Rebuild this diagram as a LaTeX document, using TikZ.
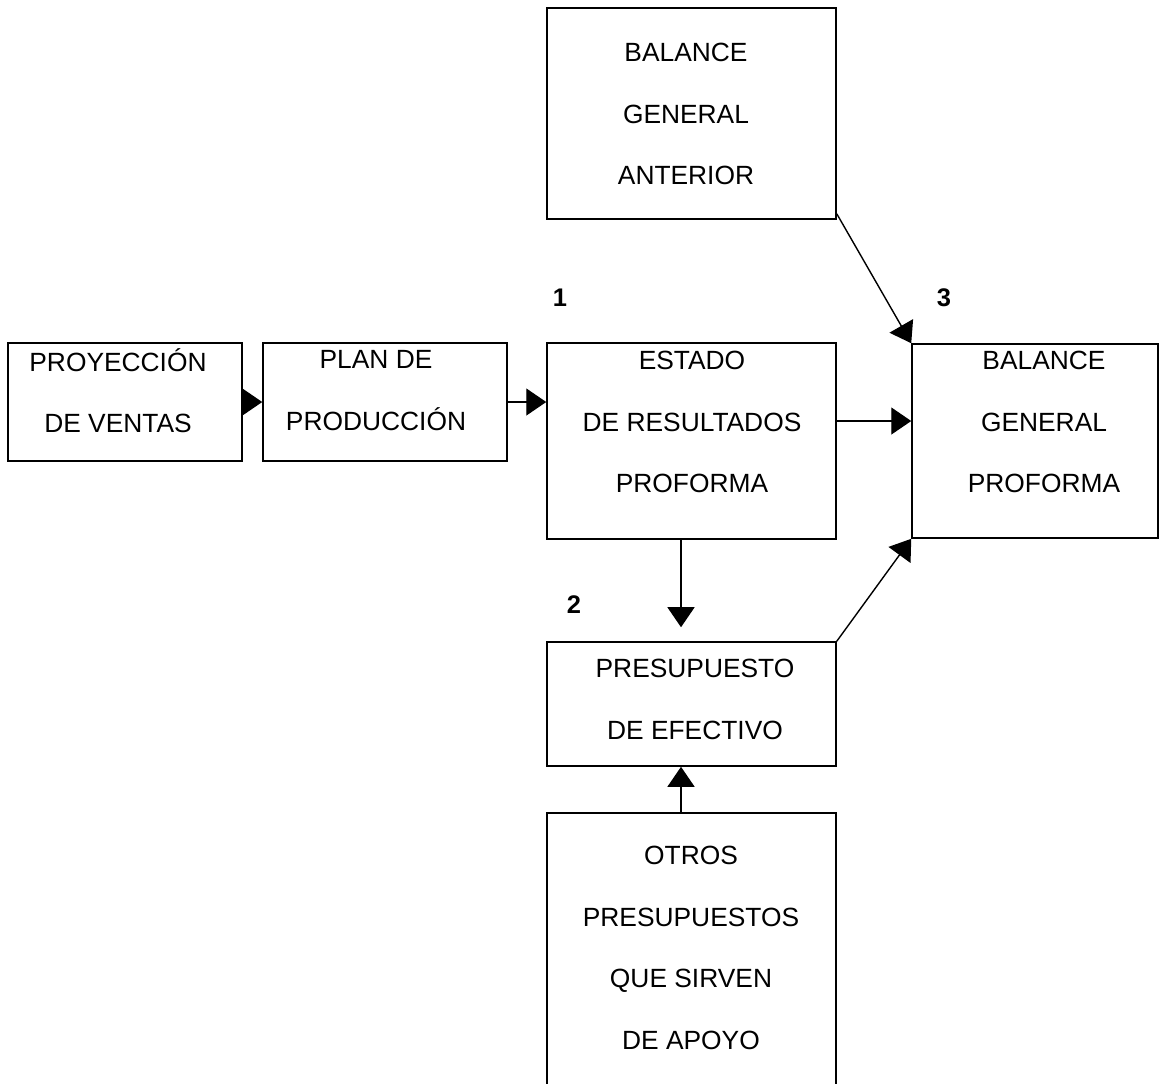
\documentclass[tikz,border=0pt]{standalone}
\usepackage{fontspec}
\setmainfont{Liberation Sans}
\usetikzlibrary{arrows.meta}

\begin{document}
\begin{tikzpicture}[x=0.02cm, y=-0.02cm,
    caja/.style={draw, line width=0.9pt, rectangle, inner sep=0pt},
    texto/.style={align=center, inner sep=0pt, font=\fontsize{15}{35}\selectfont},
    num/.style={font=\fontsize{14.5}{17}\selectfont\bfseries},
    flecha/.style={line width=0.8pt, -{Triangle[length=0.4cm, width=0.54cm]}}]
    \useasboundingbox (0,0) rectangle (1159,1083);
    \clip (0,0) rectangle (1159,1083);

    % cajas
    \node[caja, minimum width=4.68cm, minimum height=2.36cm] (pv) at (125,402) {};
    \node[caja, minimum width=4.88cm, minimum height=2.36cm] (pp) at (385,402) {};
    \node[caja, minimum width=5.78cm, minimum height=3.92cm] (er) at (691.5,441) {};
    \node[caja, minimum width=5.78cm, minimum height=4.22cm] (bga) at (691.5,113.5) {};
    \node[caja, minimum width=4.92cm, minimum height=3.88cm] (bgp) at (1035,441) {};
    \node[caja, minimum width=5.78cm, minimum height=2.48cm] (pe) at (691.5,704) {};
    \node[caja, minimum width=5.78cm, minimum height=5.74cm] (op) at (691.5,956.5) {};

    % textos
    \node[texto] (tpv) at (118,390.5) {PROYECCIÓN\\DE VENTAS};
    \node[texto] (tpp) at (376,390.5) {PLAN DE\\PRODUCCIÓN};
    \node[texto] (ter) at (692,422) {ESTADO\\DE RESULTADOS\\PROFORMA};
    \node[texto] (tbga) at (686,114) {BALANCE\\GENERAL\\ANTERIOR};
    \node[texto] (tbgp) at (1044,422) {BALANCE\\GENERAL\\PROFORMA};
    \node[texto] (tpe) at (695,699.5) {PRESUPUESTO\\DE EFECTIVO};
    \node[texto] (top) at (691,948) {OTROS\\PRESUPUESTOS\\QUE SIRVEN\\DE APOYO};

    \node[num] (n1) at (560,298) {1};
    \node[num] (n2) at (574,605) {2};
    \node[num] (n3) at (944,298) {3};

    % flechas
    \draw[flecha] (pv.east) -- (pp.west);
    \draw[flecha] (pp.east) -- (pp.east -| er.west);
    \draw[flecha] ([yshift=0.4cm]er.east) -- ([yshift=0.4cm]er.east -| bgp.west);
    \draw[flecha, shorten >=0.28cm] ([xshift=-0.21cm]er.south) -- ([xshift=-0.21cm]er.south |- pe.north);
    \draw[flecha] ([xshift=-0.21cm]op.north) -- ([xshift=-0.21cm]op.north |- pe.south);
    \draw[flecha] ([yshift=0.12cm]bga.south east) -- (bgp.north west);
    \draw[flecha] (pe.north east) -- (bgp.south west);
\end{tikzpicture}
\end{document}
